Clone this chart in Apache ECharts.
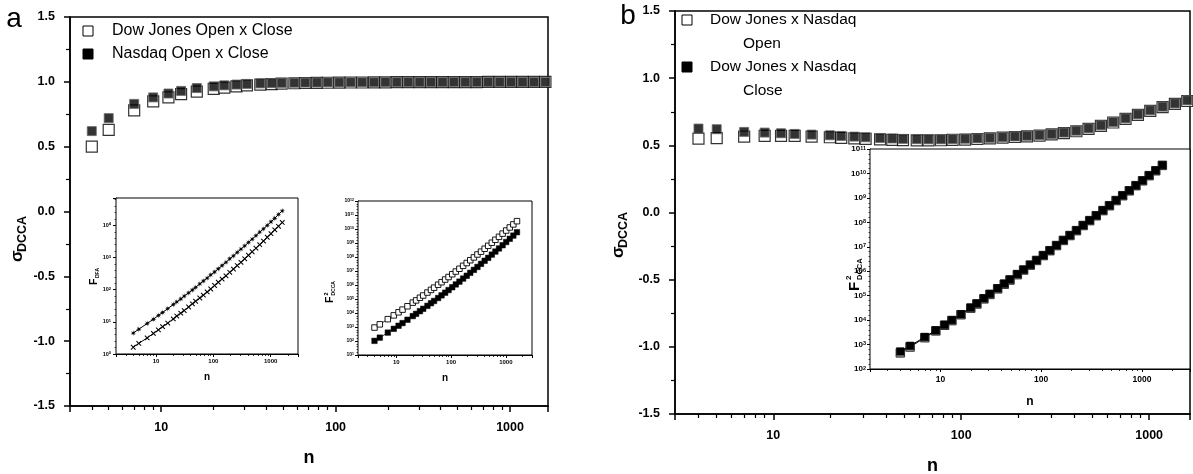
<!DOCTYPE html>
<html><head><meta charset="utf-8">
<script src="https://cdn.jsdelivr.net/npm/echarts@6/dist/echarts.min.js"></script>
<style>html,body{margin:0;padding:0;background:#fff}#c{width:1193px;height:474px}</style>
</head><body><div id="c"></div>
<script>
// ---------- data ----------
const nValues = [4,5,7,9,11,13,16,20,23,27,31,37,43,49,58,67,78,90,105,122,142,166,193,224,261,303,352,410,476,554,644,749,872,1014,1179,1371,1595];
// panel a main: sigma_DCCA
const sigmaDowOpenClose = [0.50,0.63,0.78,0.85,0.88,0.905,0.925,0.945,0.955,0.965,0.972,0.978,0.983,0.986,0.989,0.991,0.992,0.993,0.994,0.995,0.995,0.996,0.996,0.997,0.997,0.997,0.998,0.998,0.998,0.998,0.998,0.999,0.999,0.999,0.999,0.999,0.999];
const sigmaNasOpenClose = [0.62,0.72,0.83,0.88,0.91,0.93,0.952,0.965,0.973,0.979,0.984,0.988,0.990,0.992,0.993,0.994,0.995,0.996,0.996,0.997,0.997,0.997,0.998,0.998,0.998,0.998,0.998,0.998,0.999,0.999,0.999,0.999,0.999,0.999,0.999,0.999,0.999];
// panel a inset 1: log10 F_DFA
const dfaUpperLog10 = [0.65,0.77,0.95,1.08,1.20,1.29,1.41,1.54,1.62,1.71,1.80,1.90,1.99,2.07,2.18,2.27,2.36,2.46,2.55,2.65,2.75,2.85,2.96,3.05,3.16,3.26,3.36,3.47,3.57,3.68,3.79,3.89,4.00,4.11,4.22,4.34,4.45];
const dfaLowerLog10 = [0.21,0.33,0.50,0.64,0.75,0.85,0.96,1.09,1.18,1.27,1.35,1.46,1.56,1.64,1.74,1.83,1.93,2.02,2.13,2.23,2.33,2.43,2.54,2.64,2.75,2.85,2.96,3.07,3.18,3.29,3.40,3.51,3.63,3.74,3.86,3.97,4.09];
// panel a inset 2: log10 F2_DCCA
const dccaOCOpenSymLog10 = [2.96,3.19,3.56,3.83,4.05,4.24,4.48,4.74,4.90,5.09,5.25,5.46,5.65,5.81,6.02,6.20,6.39,6.57,6.77,6.96,7.16,7.37,7.57,7.77,7.97,8.18,8.38,8.59,8.80,9.02,9.23,9.44,9.67,9.89,10.11,10.33,10.56];
const dccaOCFilledSymLog10 = [2.01,2.24,2.60,2.87,3.09,3.28,3.52,3.78,3.94,4.13,4.30,4.51,4.70,4.86,5.07,5.26,5.45,5.64,5.84,6.04,6.24,6.46,6.66,6.87,7.08,7.29,7.51,7.73,7.94,8.17,8.39,8.61,8.84,9.07,9.30,9.53,9.77];
// panel b main: sigma_DCCA
const sigmaOpen = [0.55,0.553,0.565,0.57,0.57,0.57,0.565,0.56,0.556,0.552,0.548,0.544,0.541,0.539,0.537,0.537,0.538,0.54,0.543,0.547,0.552,0.557,0.562,0.567,0.573,0.581,0.591,0.605,0.623,0.645,0.67,0.697,0.727,0.757,0.784,0.808,0.83];
const sigmaClose = [0.625,0.62,0.60,0.595,0.59,0.585,0.58,0.575,0.57,0.565,0.56,0.555,0.551,0.548,0.546,0.545,0.545,0.547,0.549,0.552,0.556,0.561,0.566,0.571,0.577,0.585,0.595,0.609,0.627,0.649,0.674,0.701,0.731,0.761,0.788,0.812,0.835];
// panel b inset: log10 F2_DCCA
const dccaOpenLog10 = [2.66,2.90,3.28,3.56,3.79,3.98,4.22,4.49,4.66,4.87,5.05,5.28,5.47,5.64,5.86,6.05,6.25,6.44,6.64,6.84,7.05,7.26,7.46,7.66,7.87,8.07,8.27,8.48,8.68,8.89,9.09,9.29,9.50,9.70,9.91,10.11,10.33];
const dccaCloseLog10 = [2.72,2.95,3.31,3.58,3.81,4.00,4.24,4.51,4.68,4.89,5.07,5.30,5.49,5.66,5.88,6.06,6.26,6.45,6.65,6.85,7.06,7.27,7.47,7.67,7.88,8.08,8.28,8.49,8.69,8.90,9.10,9.30,9.51,9.71,9.92,10.12,10.34];
// legend / label texts
const legendA = ['Dow Jones Open x Close','Nasdaq Open x Close'];
const legendB = [['Dow Jones x Nasdaq','Open'],['Dow Jones x Nasdaq','Close']];

// ---------- build ----------
const FONT = '"Liberation Sans", Arial, Helvetica, sans-serif';
const zip = (xs, ys) => xs.map((x, i) => [x, ys[i]]);
const chart = echarts.init(document.getElementById('c'), null, {renderer: 'canvas'});

const starPath = (() => {
  let p = 'path://';
  for (let i = 0; i < 16; i++) {
    const a = i * Math.PI / 8, r = (i % 2) ? 1.7 : 5;
    p += (i ? 'L' : 'M') + (5 + r * Math.cos(a)).toFixed(2) + ',' + (5 + r * Math.sin(a)).toFixed(2);
  }
  return p + 'Z';
})();
const plusPath = 'path://M4.2,0h1.6v4.2h4.2v1.6h-4.2v4.2h-1.6v-4.2h-4.2v-1.6h4.2z';
const isDecade = v => Math.abs(Math.log10(v) - Math.round(Math.log10(v))) < 1e-6;

const grids = [
  {left: 70, top: 17, width: 478, height: 389},
  {left: 675, top: 11, width: 515, height: 403},
  {left: 116, top: 198, width: 182, height: 156},
  {left: 358, top: 201, width: 174, height: 154},
  {left: 870, top: 149, width: 320, height: 220}
].map((g, i) => Object.assign(g, {show: true, borderColor: '#000', borderWidth: i < 2 ? 1.5 : 1, backgroundColor: '#fff', z: i < 2 ? 0 : 1, containLabel: false, outerBoundsMode: 'none'}));

function mainX(gi) {
  return {type: 'log', gridIndex: gi, min: 3, max: 1650,
    axisLine: {show: true, onZero: false, lineStyle: {color: '#000', width: 1.5}},
    axisTick: {show: true, length: 6, lineStyle: {color: '#000', width: 1.5}},
    minorTick: {show: true, splitNumber: 9, length: 4, lineStyle: {color: '#000', width: 1.2}},
    axisLabel: {color: '#000', fontFamily: FONT, fontWeight: 'bold', fontSize: 12.5, margin: 15, showMinLabel: false, showMaxLabel: false,
      formatter: v => isDecade(v) ? String(Math.round(v)) : ''},
    splitLine: {show: false}, minorSplitLine: {show: false},
    name: 'n', nameLocation: 'middle', nameGap: 43,
    nameTextStyle: {color: '#000', fontFamily: FONT, fontWeight: 'bold', fontSize: 18}};
}
function mainY(gi) {
  return {type: 'value', gridIndex: gi, min: -1.5, max: 1.5, interval: 0.5,
    axisLine: {show: true, onZero: false, lineStyle: {color: '#000', width: 1.5}},
    axisTick: {show: true, length: 6, lineStyle: {color: '#000', width: 1.5}},
    minorTick: {show: true, splitNumber: 2, length: 4, lineStyle: {color: '#000', width: 1.2}},
    axisLabel: {color: '#000', fontFamily: FONT, fontWeight: 'bold', fontSize: 12.5, margin: 15, formatter: v => v.toFixed(1)},
    splitLine: {show: false}, minorSplitLine: {show: false}};
}
function insetX(gi, fs, nameFs, nameGap, margin) {
  return {type: 'log', gridIndex: gi, min: 2, max: 3000,
    axisLine: {show: true, onZero: false, lineStyle: {color: '#000', width: 1}},
    axisTick: {show: true, length: 3, lineStyle: {color: '#000', width: 1}},
    minorTick: {show: true, splitNumber: 9, length: 2, lineStyle: {color: '#000', width: 0.8}},
    axisLabel: {color: '#000', fontFamily: FONT, fontWeight: 'bold', fontSize: fs, margin: margin, showMinLabel: false, showMaxLabel: false,
      formatter: v => isDecade(v) ? String(Math.round(v)) : ''},
    splitLine: {show: false}, minorSplitLine: {show: false},
    name: 'n', nameLocation: 'middle', nameGap: nameGap,
    nameTextStyle: {color: '#000', fontFamily: FONT, fontWeight: 'bold', fontSize: nameFs}};
}
function insetY(gi, min, max, fs, sfs, margin) {
  return {type: 'value', gridIndex: gi, min: min, max: max, interval: 1,
    axisLine: {show: true, onZero: false, lineStyle: {color: '#000', width: 1}},
    axisTick: {show: true, length: 3, lineStyle: {color: '#000', width: 1}},
    minorTick: {show: true, splitNumber: 5, length: 1.5, lineStyle: {color: '#000', width: 0.7}},
    axisLabel: {color: '#000', margin: margin, showMaxLabel: true, showMinLabel: true,
      formatter: v => Math.abs(v - Math.round(v)) < 1e-6 ? '{b|10}{s|' + Math.round(v) + '}' : '',
      rich: {b: {fontFamily: FONT, fontSize: fs, fontWeight: 'bold', color: '#000'},
             s: {fontFamily: FONT, fontSize: sfs, fontWeight: 'bold', color: '#000', verticalAlign: 'top'}}},
    splitLine: {show: false}, minorSplitLine: {show: false}};
}

const xAxis = [mainX(0), mainX(1), insetX(2, 6, 10, 18, 4), insetX(3, 6, 10, 18, 4), insetX(4, 8.5, 12, 27, 6)];
const yAxis = [mainY(0), mainY(1), insetY(2, 0, 4.85, 5.5, 4, 5), insetY(3, 1, 12, 5, 3.5, 4), insetY(4, 2, 11, 8, 5.5, 4)];

const sq = (fill, stroke, bw) => ({color: fill, borderColor: stroke, borderWidth: bw});
const series = [
  {name: legendA[0], type: 'scatter', xAxisIndex: 0, yAxisIndex: 0, symbol: 'rect', symbolSize: 11, itemStyle: sq('#fff', '#000', 1.2), data: zip(nValues, sigmaDowOpenClose), z: 3},
  {name: legendA[1], type: 'scatter', xAxisIndex: 0, yAxisIndex: 0, symbol: 'rect', symbolSize: 9, itemStyle: sq('#000', '#666', 1), data: zip(nValues, sigmaNasOpenClose), z: 4},
  {name: 'b-open', type: 'scatter', xAxisIndex: 1, yAxisIndex: 1, symbol: 'rect', symbolSize: 11, itemStyle: sq('#fff', '#000', 1.2), data: zip(nValues, sigmaOpen), z: 3},
  {name: 'b-close', type: 'scatter', xAxisIndex: 1, yAxisIndex: 1, symbol: 'rect', symbolSize: 9, itemStyle: sq('#000', '#666', 1), data: zip(nValues, sigmaClose), z: 4},
  {name: 'dfa-upper', type: 'line', xAxisIndex: 2, yAxisIndex: 2, symbol: starPath, symbolSize: 6, showSymbol: true,
    lineStyle: {color: '#000', width: 1}, itemStyle: {color: '#000'}, data: zip(nValues, dfaUpperLog10), z: 5},
  {name: 'dfa-lower', type: 'line', xAxisIndex: 2, yAxisIndex: 2, symbol: plusPath, symbolRotate: 45, symbolSize: 6.5, showSymbol: true,
    lineStyle: {color: '#000', width: 1}, itemStyle: {color: '#000'}, data: zip(nValues, dfaLowerLog10), z: 5},
  {name: 'dcca-oc-open', type: 'line', xAxisIndex: 3, yAxisIndex: 3, symbol: 'rect', symbolSize: 5.5, showSymbol: true,
    lineStyle: {color: '#000', width: 0.8}, itemStyle: sq('#fff', '#000', 0.9), data: zip(nValues, dccaOCOpenSymLog10), z: 5},
  {name: 'dcca-oc-filled', type: 'line', xAxisIndex: 3, yAxisIndex: 3, symbol: 'rect', symbolSize: 5.5, showSymbol: true,
    lineStyle: {color: '#000', width: 0.8}, itemStyle: sq('#000', '#000', 0.5), data: zip(nValues, dccaOCFilledSymLog10), z: 5},
  {name: 'dcca-open', type: 'line', xAxisIndex: 4, yAxisIndex: 4, symbol: 'rect', symbolSize: 8.5, showSymbol: true,
    lineStyle: {color: '#000', width: 1}, itemStyle: sq('#999', '#333', 1), data: zip(nValues, dccaOpenLog10), z: 5},
  {name: 'dcca-close', type: 'line', xAxisIndex: 4, yAxisIndex: 4, symbol: 'rect', symbolSize: 7.5, showSymbol: true,
    lineStyle: {color: '#000', width: 1}, itemStyle: sq('#000', '#000', 0.5), data: zip(nValues, dccaCloseLog10), z: 6}
];
series.forEach(s => { s.silent = true; s.animation = false; });

// ---------- text graphics ----------
const txt = (x, y, text, font, align, extra) => Object.assign({type: 'text', x: x, y: y, style: {text: text, font: font, fill: '#000', align: align || 'left', verticalAlign: 'middle'}}, extra || {});
const rect = (x, y, s, fill) => ({type: 'rect', shape: {x: x - s / 2, y: y - s / 2, width: s, height: s}, style: {fill: fill, stroke: '#000', lineWidth: 1}});
const vGroup = (x, y, children) => ({type: 'group', x: x, y: y, rotation: Math.PI / 2, children: children});

const graphic = [
  txt(14, 19, 'a', '28px ' + FONT, 'center'),
  txt(628, 16, 'b', '28px ' + FONT, 'center'),
  // legend a
  rect(88, 31, 10, '#fff'), txt(112, 31, legendA[0], '16px ' + FONT),
  rect(88, 54, 10, '#000'), txt(112, 54, legendA[1], '16px ' + FONT),
  // legend b
  rect(687, 20, 10, '#fff'), txt(710, 20, legendB[0][0], '15.5px ' + FONT), txt(743, 44, legendB[0][1], '15.5px ' + FONT),
  rect(687, 67, 10, '#000'), txt(710, 67, legendB[1][0], '15.5px ' + FONT), txt(743, 91, legendB[1][1], '15.5px ' + FONT),
  // y titles main
  vGroup(17, 262, [txt(0, 0, 'σ', 'bold 17px ' + FONT), txt(10, 6, 'DCCA', 'bold 12.5px ' + FONT)]),
  vGroup(618, 258, [txt(0, 0, 'σ', 'bold 17px ' + FONT), txt(10, 6, 'DCCA', 'bold 12.5px ' + FONT)]),
  // inset titles
  vGroup(94, 285, [txt(0, 0, 'F', 'bold 10.5px ' + FONT), txt(7, 3.5, 'DFA', 'bold 5px ' + FONT)]),
  vGroup(330, 303, [txt(0, 0, 'F', 'bold 10.5px ' + FONT), txt(7.5, -4, '2', 'bold 5.5px ' + FONT), txt(7.5, 3.5, 'DCCA', 'bold 5px ' + FONT)]),
  vGroup(855, 291, [txt(0, 0, 'F', 'bold 15px ' + FONT), txt(11, -6, '2', 'bold 8px ' + FONT), txt(11, 5, 'DCCA', 'bold 7.5px ' + FONT)])
];
graphic.forEach(g => { g.z = 100; g.silent = true; });

chart.setOption({
  animation: false,
  backgroundColor: '#fff',
  grid: grids, xAxis: xAxis, yAxis: yAxis, series: series,
  graphic: {elements: graphic}
});
</script></body></html>
